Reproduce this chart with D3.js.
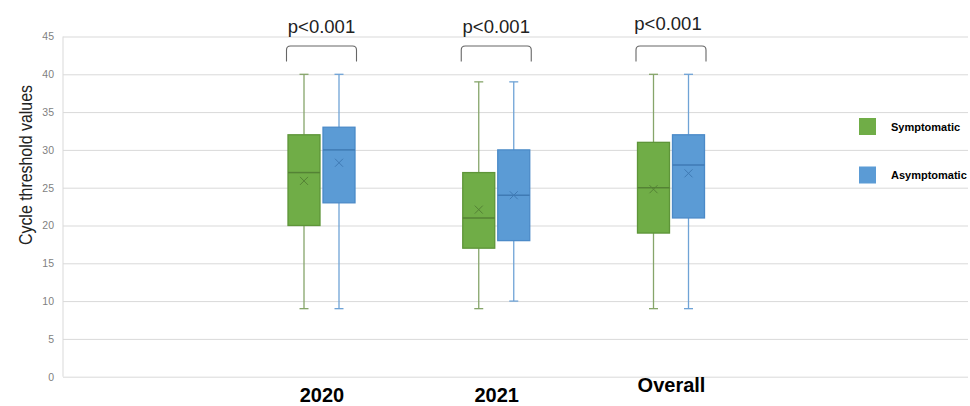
<!DOCTYPE html>
<html>
<head>
<meta charset="utf-8">
<script src="https://cdn.jsdelivr.net/npm/d3@7"></script>
<style>
  html, body { margin: 0; padding: 0; background: #fff; }
  svg { display: block; }
</style>
</head>
<body>
<svg id="chart" width="970" height="406"></svg>
<script>
// Categories and groups
const categories = ["2020", "2021", "Overall"];
const groups = ["Symptomatic", "Asymptomatic"];

// Box statistics per category: [min, q1, median, q3, max], and mean
const symptomaticStats = [
  [9, 20, 27, 32, 40],
  [9, 17, 21, 27, 39],
  [9, 19, 25, 31, 40]
];
const symptomaticMean = [25.9, 22.1, 24.8];

const asymptomaticStats = [
  [9, 23, 30, 33, 40],
  [10, 18, 24, 30, 39],
  [9, 21, 28, 32, 40]
];
const asymptomaticMean = [28.3, 24.0, 26.9];

const pLabels = ["p<0.001", "p<0.001", "p<0.001"];
const yTicks = [0, 5, 10, 15, 20, 25, 30, 35, 40, 45];

const colors = {
  Symptomatic: { fill: "#70ad47", stroke: "#5e9539", line: "#548235", whisker: "#86a56a" },
  Asymptomatic: { fill: "#5b9bd5", stroke: "#4b8ac8", line: "#3f7ab4", whisker: "#6fa3d6" }
};

const svg = d3.select("#chart");
const plotLeft = 63, plotRight = 968, plotTop = 36.5, plotBottom = 376.7;

const y = d3.scaleLinear().domain([0, 45]).range([plotBottom, plotTop]);
const x = d3.scalePoint().domain(categories).range([321.5, 671]);
const sub = d3.scalePoint().domain(groups).range([-17.5, 17.5]);
const boxW = 32, capW = 9;

// Gridlines and y-axis labels
const yAxis = d3.axisLeft(y).tickValues(yTicks).tickSize(-(plotRight - plotLeft)).tickPadding(9);
const gy = svg.append("g").attr("transform", `translate(${plotLeft},0)`).call(yAxis);
gy.select(".domain").remove();
gy.selectAll(".tick line").attr("stroke", "#d9d9d9").attr("stroke-width", 1);
gy.selectAll(".tick text")
  .attr("fill", "#7f7f7f")
  .style("font-family", "'Liberation Sans', Arial, sans-serif")
  .style("font-size", "10.5px");

// Vertical axis line
svg.append("line")
  .attr("x1", plotLeft).attr("x2", plotLeft)
  .attr("y1", y(45)).attr("y2", y(0))
  .attr("stroke", "#d9d9d9");

// Category labels
const xAxis = d3.axisBottom(x).tickSize(0).tickPadding(0);
const gx = svg.append("g").attr("transform", `translate(0,${plotBottom})`).call(xAxis);
gx.select(".domain").remove();
gx.selectAll(".tick text")
  .attr("fill", "#000")
  .attr("y", d => d === "Overall" ? 15 : 25)
  .attr("dy", 0)
  .style("font-family", "'Liberation Sans', Arial, sans-serif")
  .style("font-weight", "bold")
  .style("font-size", "20px");

// Y axis title
svg.append("text")
  .attr("transform", `translate(32,${y(28)}) rotate(-90)`)
  .attr("text-anchor", "middle")
  .attr("fill", "#222")
  .attr("textLength", 160)
  .attr("lengthAdjust", "spacingAndGlyphs")
  .style("font-family", "'Liberation Sans', Arial, sans-serif")
  .style("font-size", "18px")
  .text("Cycle threshold values");

// Boxes
function drawGroup(name, stats, means) {
  const c = colors[name];
  const g = svg.append("g");
  stats.forEach((s, i) => {
    const cx = x(categories[i]) + sub(name);
    const [mn, q1, med, q3, mx] = s;
    // whiskers
    g.append("line").attr("x1", cx).attr("x2", cx).attr("y1", y(mx)).attr("y2", y(q3))
      .attr("stroke", c.whisker).attr("stroke-width", 1.3);
    g.append("line").attr("x1", cx).attr("x2", cx).attr("y1", y(q1)).attr("y2", y(mn))
      .attr("stroke", c.whisker).attr("stroke-width", 1.3);
    g.append("line").attr("x1", cx - capW / 2).attr("x2", cx + capW / 2).attr("y1", y(mx)).attr("y2", y(mx))
      .attr("stroke", c.whisker).attr("stroke-width", 1.3);
    g.append("line").attr("x1", cx - capW / 2).attr("x2", cx + capW / 2).attr("y1", y(mn)).attr("y2", y(mn))
      .attr("stroke", c.whisker).attr("stroke-width", 1.3);
    // box
    g.append("rect")
      .attr("x", cx - boxW / 2).attr("width", boxW)
      .attr("y", y(q3)).attr("height", y(q1) - y(q3))
      .attr("fill", c.fill).attr("stroke", c.stroke).attr("stroke-width", 1.3);
    // median
    g.append("line").attr("x1", cx - boxW / 2).attr("x2", cx + boxW / 2).attr("y1", y(med)).attr("y2", y(med))
      .attr("stroke", c.line).attr("stroke-width", 1.5);
    // mean marker
    const my = y(means[i]), r = 4;
    g.append("path")
      .attr("d", `M${cx - r},${my - r}L${cx + r},${my + r}M${cx - r},${my + r}L${cx + r},${my - r}`)
      .attr("stroke", c.line).attr("stroke-width", 1).attr("fill", "none");
  });
}
drawGroup("Symptomatic", symptomaticStats, symptomaticMean);
drawGroup("Asymptomatic", asymptomaticStats, asymptomaticMean);

// Significance brackets and labels
categories.forEach((cat, i) => {
  const cx = x(cat);
  const x0 = cx - 35, x1 = cx + 35;
  const yTop = 46, yBot = 61.5, r = 4;
  svg.append("path")
    .attr("d", `M${x0},${yBot}L${x0},${yTop + r}Q${x0},${yTop} ${x0 + r},${yTop}L${x1 - r},${yTop}Q${x1},${yTop} ${x1},${yTop + r}L${x1},${yBot}`)
    .attr("fill", "none").attr("stroke", "#666").attr("stroke-width", 1.1);
  svg.append("text")
    .attr("x", cx - (cat === "Overall" ? 3 : 0))
    .attr("y", cat === "Overall" ? 30 : 33)
    .attr("text-anchor", "middle")
    .attr("fill", "#222")
    .style("font-family", "'Liberation Sans', Arial, sans-serif")
    .style("font-size", "18.5px")
    .text(pLabels[i]);
});

// Legend
const legend = svg.append("g");
groups.forEach((gname, i) => {
  const ly = 118 + i * 48.5;
  legend.append("rect")
    .attr("x", 859).attr("y", ly).attr("width", 17).attr("height", 17)
    .attr("fill", colors[gname].fill);
  legend.append("text")
    .attr("x", 891).attr("y", ly + 12.5)
    .attr("fill", "#000")
    .style("font-family", "'Liberation Sans', Arial, sans-serif")
    .style("font-weight", "bold")
    .style("font-size", "11px")
    .text(gname);
});
</script>
</body>
</html>
